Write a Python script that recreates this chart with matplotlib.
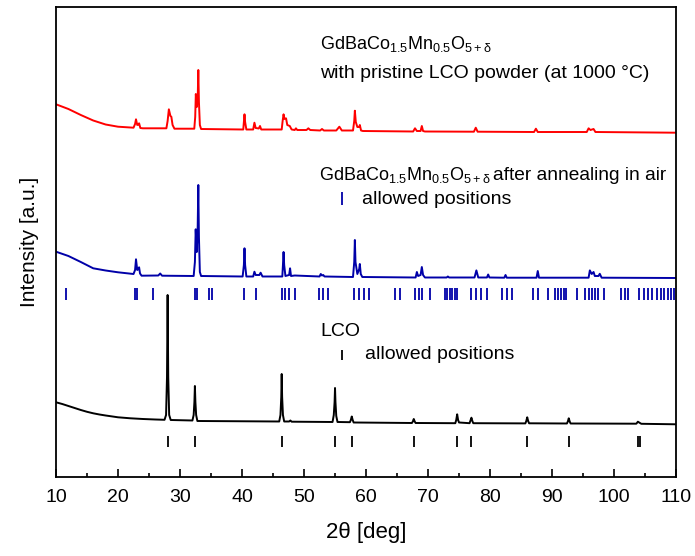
import matplotlib
matplotlib.use("Agg")
import matplotlib.pyplot as plt
from matplotlib.ticker import MultipleLocator

plt.rcParams['font.family'] = ['Liberation Sans', 'DejaVu Sans']
plt.rcParams['mathtext.fontset'] = 'custom'
plt.rcParams['mathtext.rm'] = 'Liberation Sans'
plt.rcParams['mathtext.it'] = 'Liberation Sans'  # keep delta upright

# LCO pattern (black), intensity in a.u. with stacking offset already in
lco_x = [10, 11, 12, 13, 14, 15, 16, 17, 18, 19, 20, 22, 24, 26, 27.5,
         27.75, 27.9, 28.0, 28.1, 28.25, 28.5,
         32.0, 32.2, 32.32, 32.4, 32.48, 32.6, 32.8,
         46.0, 46.2, 46.33, 46.4, 46.47, 46.6, 46.8,
         47.6, 47.8, 48.0,
         54.6, 54.8, 54.93, 55.0, 55.07, 55.2, 55.4,
         57.4, 57.55, 57.7, 57.85, 58.0,
         67.4, 67.55, 67.7, 67.85, 68.0,
         74.4, 74.55, 74.7, 74.85, 75.0,
         76.7, 76.85, 77.0, 77.15, 77.3,
         85.7, 85.85, 86.0, 86.15, 86.3,
         92.4, 92.55, 92.7, 92.85, 93.0,
         103.6, 103.85, 104.1, 104.4, 110]
lco_y = [74.7, 73, 71, 69, 67, 65.2, 63.7, 62.5, 61.5, 60.6, 59.7, 58.7, 58, 57.5, 57.2,
         62, 100, 182, 100, 62, 57,
         56.5, 62, 75, 91, 75, 62, 56,
         55.5, 62, 80, 103, 80, 62, 55.5,
         55.5, 56.5, 55.3,
         55, 62, 75, 89, 75, 61, 55,
         54.8, 57, 60.5, 57, 54.5,
         54, 55.5, 58, 55.5, 54,
         53.8, 57, 62.7, 57, 54.5,
         53.8, 56.5, 59.3, 56, 53.8,
         53.6, 56, 59.7, 56, 53.7,
         53.5, 55.5, 58.7, 55.5, 53.5,
         53.3, 55.3, 54.3, 53.2, 52.7]

# GdBaCo1.5Mn0.5O5+d after annealing (blue)
ann_x = [10, 12, 14, 16, 18, 20, 22.5, 22.75, 22.9, 23.1, 23.3, 23.4, 23.55, 23.8,
         26.5, 26.8, 27.1,
         32.2, 32.4, 32.53, 32.7, 32.85, 32.95, 33.05, 33.2, 33.4,
         40.1, 40.3, 40.4, 40.5, 40.7,
         41.8, 42.0, 42.2, 42.8, 43.0, 43.3,
         46.5, 46.6, 46.7, 46.8, 47.0, 47.6, 47.75, 47.9, 48.5,
         52.5, 52.7, 52.9, 53.1, 53.3,
         57.9, 58.1, 58.2, 58.3, 58.6, 58.9, 59.0, 59.15, 59.4,
         68.0, 68.2, 68.4, 68.8, 69.0, 69.2, 69.5,
         73.0, 73.2, 73.4,
         77.5, 77.8, 78.1,
         79.5, 79.7, 79.9,
         82.3, 82.5, 82.7,
         87.5, 87.7, 87.9,
         95.9, 96.1, 96.4, 96.7, 96.9, 97.5, 97.7, 98.0, 110]
ann_y = [225.3, 221, 215, 208.7, 206.5, 204.7, 203, 207, 217.7, 207, 208, 209.7, 203.5, 201.3,
         201.5, 203.5, 201.3,
         201, 215, 247.7, 225, 250, 292, 240, 205, 201,
         200.5, 212, 228.7, 212, 200.5,
         200.5, 205.3, 202, 202, 204.3, 200.5,
         200.5, 212, 225, 212, 201, 202, 208.7, 201, 201.5,
         200.5, 203, 201.5, 202, 200.5,
         200, 215, 237, 215, 203, 208, 213, 203, 200,
         199.5, 205, 201, 202, 210, 202, 199.5,
         199.5, 200.5, 199.5,
         199.5, 206.6, 199.5,
         199.5, 202.5, 199.5,
         199.3, 202, 199.3,
         199.3, 206, 199.3,
         199.3, 206.6, 203, 205, 201, 201, 203.2, 199.3, 199]

# GdBaCo1.5Mn0.5O5+d with pristine LCO at 1000 C (red)
mix_x = [10, 12, 14, 16, 18, 20, 22.5, 22.75, 22.9, 23.1, 23.3, 23.4, 23.6, 24,
         27.8, 28.0, 28.2, 28.45, 28.6, 28.8, 29.1,
         32.3, 32.45, 32.55, 32.7, 32.85, 32.95, 33.05, 33.2, 33.4,
         40.2, 40.3, 40.4, 40.5, 40.7,
         41.8, 42.0, 42.2, 42.7, 42.9, 43.1,
         46.4, 46.55, 46.7, 46.85, 47.1, 47.3, 47.7, 48.0,
         48.5, 48.7, 48.9, 50.4, 50.7, 51.0, 52.6, 52.9, 53.2,
         55.2, 55.7, 56.1,
         57.9, 58.1, 58.2, 58.35, 58.6, 58.9, 59.0, 59.2, 59.5,
         67.6, 67.9, 68.2, 68.8, 69.0, 69.2, 69.5,
         77.4, 77.7, 78.0,
         87.1, 87.4, 87.7,
         95.6, 95.9, 96.2, 96.7, 97.0, 110]
mix_y = [372.7, 368, 362, 356.5, 352.5, 350.3, 349.3, 353, 357.7, 352, 352.5, 353.7, 349, 348.7,
         348.7, 356, 367.7, 361, 360.3, 352, 348.3,
         348.3, 360, 383, 370, 378, 407, 375, 352, 348,
         347.5, 355, 362.7, 355, 347.5,
         347.5, 354.3, 349, 348.5, 351, 347.5,
         347.5, 356, 362.7, 358, 358.7, 352, 351, 347.5,
         347, 348.7, 347, 347, 348.7, 347, 346.5, 348, 346.5,
         346.5, 350.3, 346.5,
         346.5, 356, 366.3, 355, 350, 350, 352, 346.5, 346,
         345.5, 348.7, 346, 346, 351, 346, 345.5,
         345.3, 349.3, 345.3,
         345, 348.3, 345,
         345, 348.7, 347, 348, 345, 344.3]

# allowed reflection positions
gbcmo_pos = [11.6, 22.7, 23.1, 25.6, 32.4, 32.7, 34.6, 35.1, 40.3, 42.3,
             46.4, 46.9, 47.5, 48.5, 52.4, 53.0, 53.8, 58.1, 58.8, 59.6, 60.4,
             64.7, 65.4, 67.9, 68.5, 69.1, 70.3, 72.7, 73.1, 73.5, 73.9, 74.3, 74.6,
             77.0, 77.8, 78.6, 79.5, 81.9, 82.8, 83.6, 87.0, 87.8, 89.4,
             90.5, 91.0, 91.5, 92.0, 92.3, 94.0, 95.3, 95.9, 96.4, 96.9, 97.4, 98.4,
             101.2, 101.7, 102.3, 104.0, 104.8, 105.5, 106.2, 106.9, 107.5,
             108.1, 108.7, 109.2, 109.7]
lco_pos = [28.0, 32.4, 46.4, 55.0, 57.7, 67.7, 74.7, 77.0, 86.0, 92.7, 103.9, 104.2]

red = '#ff0000'
blue = '#0000a8'
formula = r'GdBaCo$_{1.5}$Mn$_{0.5}$O$_{5+\delta}$'

fig = plt.figure(figsize=(6.95, 5.56), dpi=100)
ax = fig.add_axes([0.0806, 0.1421, 0.8921, 0.8453])

ax.plot(mix_x, mix_y, color=red, lw=1.4)
ax.plot(ann_x, ann_y, color=blue, lw=1.4)
ax.plot(lco_x, lco_y, color='black', lw=1.4)

ax.vlines(gbcmo_pos, 177, 189, color=blue, lw=1.3)
ax.vlines(lco_pos, 30, 41, color='black', lw=1.3)

# annotations
txt = 14
ax.text(52.6, 433, formula, fontsize=13, va='center')
ax.text(52.6, 404, 'with pristine LCO powder (at 1000 \u00b0C)', fontsize=txt, va='center')
ax.text(52.4, 302, formula, fontsize=13, va='center')
ax.text(80.4, 302, 'after annealing in air', fontsize=13.8, va='center')
ax.vlines([56.1], 272, 285, color=blue, lw=1.3)
ax.text(59.3, 278, 'allowed positions', fontsize=txt, va='center')
ax.text(52.7, 145, 'LCO', fontsize=txt, va='center')
ax.vlines([56.2], 117, 127, color='black', lw=1.3)
ax.text(59.9, 122, 'allowed positions', fontsize=txt, va='center')

ax.set_xlim(10, 110)
ax.set_ylim(0, 470)
ax.xaxis.set_major_locator(MultipleLocator(10))
ax.xaxis.set_minor_locator(MultipleLocator(5))
ax.tick_params(axis='x', which='both', direction='in', top=False, labelsize=14, pad=9)
ax.tick_params(axis='x', which='major', length=6, width=1.2)
ax.tick_params(axis='x', which='minor', length=3, width=1.2)
ax.tick_params(axis='y', left=False, labelleft=False)
for sp in ax.spines.values():
    sp.set_linewidth(1.3)

ax.set_xlabel('2\u03b8 [deg]', fontsize=16, labelpad=11)
ax.set_ylabel('Intensity [a.u.]', fontsize=15, labelpad=12)

fig.savefig('out.png', dpi=100)
